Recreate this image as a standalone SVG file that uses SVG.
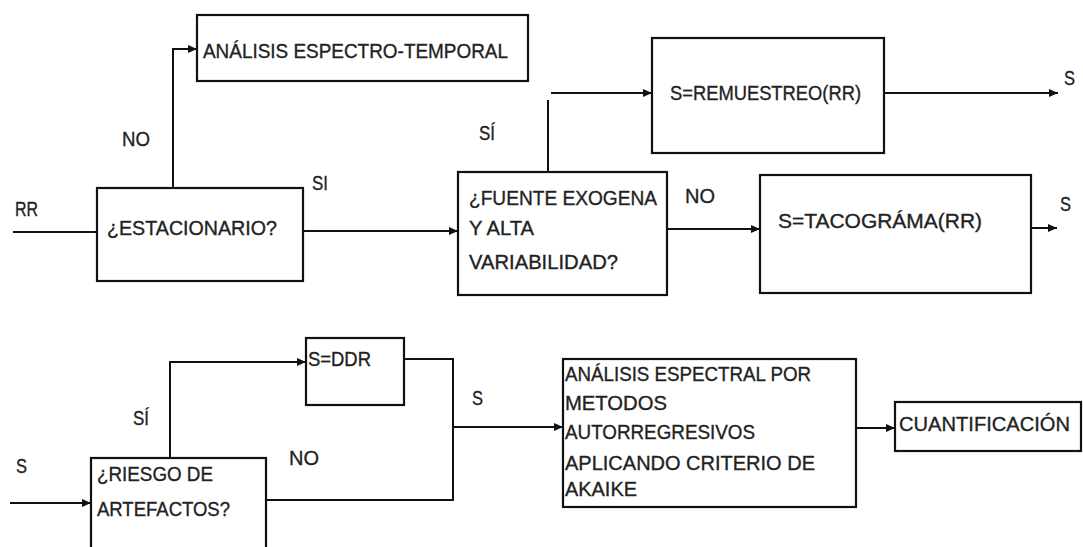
<svg xmlns="http://www.w3.org/2000/svg" width="1083" height="547" viewBox="0 0 1083 547">
<defs>
<marker id="ah" markerUnits="userSpaceOnUse" markerWidth="10" markerHeight="10" refX="9" refY="5" orient="auto">
<path d="M0,1 L9,5 L0,9 z" fill="#111"/>
</marker>
<style>
.box{fill:#fff;stroke:#111;stroke-width:2.2}
.c{fill:none;stroke:#111;stroke-width:2}
.a{marker-end:url(#ah)}
text{font-family:"Liberation Sans",Arial,sans-serif;font-size:21px;fill:#222;stroke:#222;stroke-width:0.35}
</style>
</defs>
<rect width="1083" height="547" fill="#fff"/>
<g id="connectors">
<path class="c a" d="M173,188 V49 H197"/>
<path class="c" d="M13,232 H97"/>
<path class="c a" d="M303,231 H458"/>
<path class="c" d="M548,172 V100"/>
<path class="c a" d="M551,93 H652"/>
<path class="c a" d="M884,93 H1058"/>
<path class="c a" d="M667,229 H760"/>
<path class="c a" d="M1031,228 H1057"/>
<path class="c a" d="M10,503 H91"/>
<path class="c a" d="M170,458 V362 H306"/>
<path class="c" d="M404,359 H453 V500 H266"/>
<path class="c a" d="M453,427 H563"/>
<path class="c a" d="M856,428 H895"/>
</g>
<g id="labels">
<text x="15" y="216" textLength="23" lengthAdjust="spacingAndGlyphs">RR</text>
<text x="122" y="146" textLength="28" lengthAdjust="spacingAndGlyphs">NO</text>
<text x="312" y="190" textLength="16" lengthAdjust="spacingAndGlyphs">SI</text>
<text x="479" y="140" textLength="16" lengthAdjust="spacingAndGlyphs">SÍ</text>
<text x="685" y="203" textLength="30" lengthAdjust="spacingAndGlyphs">NO</text>
<text x="1064" y="85" textLength="11" lengthAdjust="spacingAndGlyphs">S</text>
<text x="1060" y="211" textLength="11" lengthAdjust="spacingAndGlyphs">S</text>
<text x="16" y="473" textLength="11" lengthAdjust="spacingAndGlyphs">S</text>
<text x="133" y="425" textLength="16" lengthAdjust="spacingAndGlyphs">SÍ</text>
<text x="289" y="465" textLength="30" lengthAdjust="spacingAndGlyphs">NO</text>
<text x="472" y="405" textLength="11" lengthAdjust="spacingAndGlyphs">S</text>
</g>
<g id="n-espectro">
<rect class="box" x="197" y="15" width="331" height="66"/>
<text x="203" y="58" textLength="305" lengthAdjust="spacingAndGlyphs">ANÁLISIS ESPECTRO-TEMPORAL</text>
</g>
<g id="n-estacionario">
<rect class="box" x="97" y="188" width="206" height="93"/>
<text x="107" y="235" textLength="170" lengthAdjust="spacingAndGlyphs">¿ESTACIONARIO?</text>
</g>
<g id="n-fuente">
<rect class="box" x="458" y="172" width="209" height="123"/>
<text x="469" y="205" textLength="188" lengthAdjust="spacingAndGlyphs">¿FUENTE EXOGENA</text>
<text x="469" y="235" textLength="65" lengthAdjust="spacingAndGlyphs">Y ALTA</text>
<text x="469" y="269" textLength="149" lengthAdjust="spacingAndGlyphs">VARIABILIDAD?</text>
</g>
<g id="n-remuestreo">
<rect class="box" x="652" y="38" width="232" height="115"/>
<text x="670" y="100" textLength="191" lengthAdjust="spacingAndGlyphs">S=REMUESTREO(RR)</text>
</g>
<g id="n-tacograma">
<rect class="box" x="760" y="175" width="271" height="118"/>
<text x="778" y="228" textLength="204" lengthAdjust="spacingAndGlyphs">S=TACOGRÁMA(RR)</text>
</g>
<g id="n-ddr">
<rect class="box" x="306" y="338" width="98" height="67"/>
<text x="308" y="366" textLength="63" lengthAdjust="spacingAndGlyphs">S=DDR</text>
</g>
<g id="n-riesgo">
<rect class="box" x="91" y="458" width="175" height="100"/>
<text x="97" y="481" textLength="116" lengthAdjust="spacingAndGlyphs">¿RIESGO DE</text>
<text x="97" y="516" textLength="133" lengthAdjust="spacingAndGlyphs">ARTEFACTOS?</text>
</g>
<g id="n-analisis">
<rect class="box" x="563" y="359" width="293" height="148"/>
<text x="565" y="381" textLength="246" lengthAdjust="spacingAndGlyphs">ANÁLISIS ESPECTRAL POR</text>
<text x="565" y="410" textLength="102" lengthAdjust="spacingAndGlyphs">METODOS</text>
<text x="565" y="439" textLength="190" lengthAdjust="spacingAndGlyphs">AUTORREGRESIVOS</text>
<text x="565" y="470" textLength="250" lengthAdjust="spacingAndGlyphs">APLICANDO CRITERIO DE</text>
<text x="565" y="496" textLength="72" lengthAdjust="spacingAndGlyphs">AKAIKE</text>
</g>
<g id="n-cuantificacion">
<rect class="box" x="895" y="402" width="186" height="49"/>
<text x="899" y="431" textLength="171" lengthAdjust="spacingAndGlyphs">CUANTIFICACIÓN</text>
</g>
</svg>
